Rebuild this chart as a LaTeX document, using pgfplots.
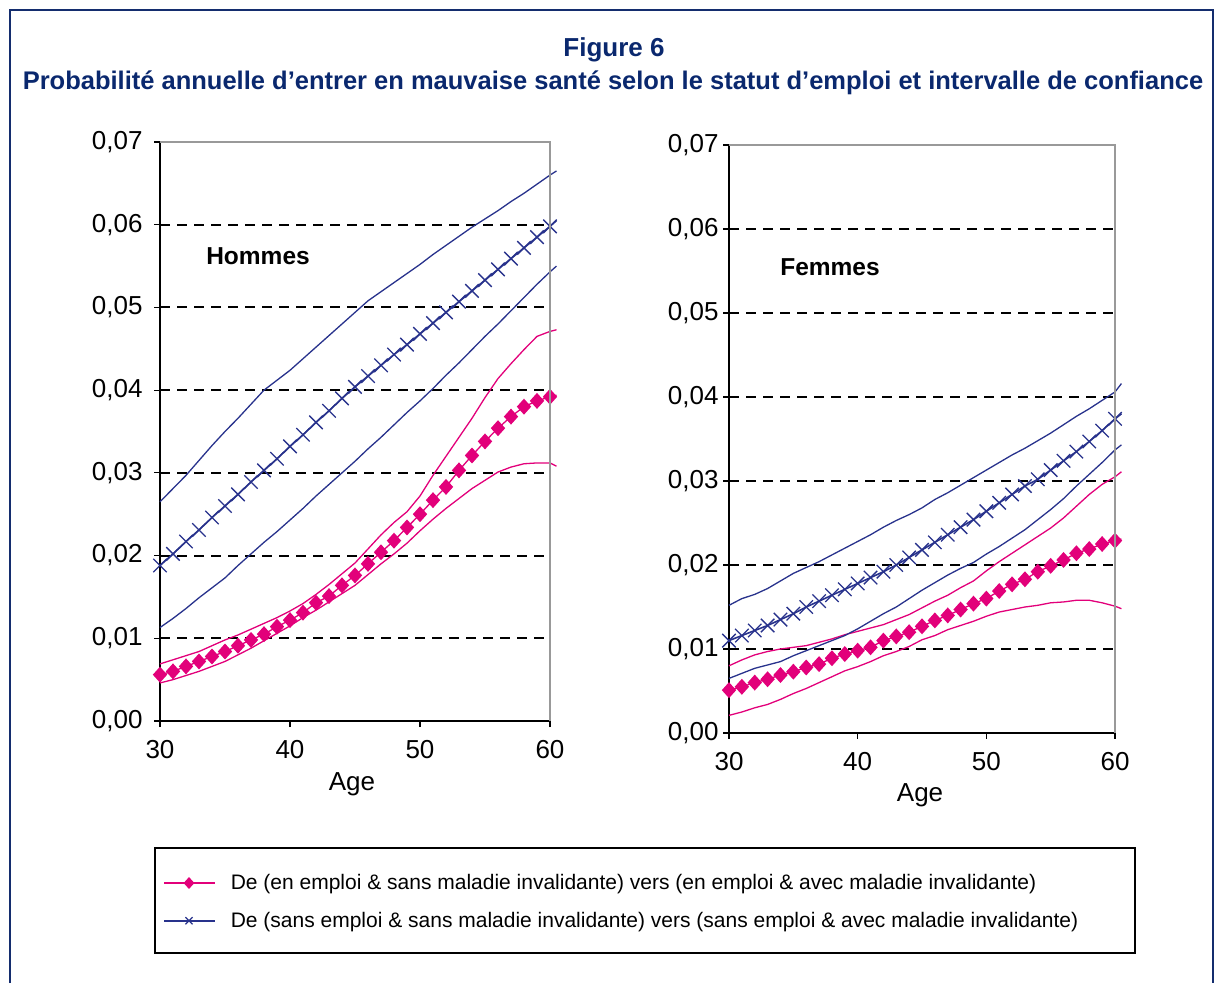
\documentclass[border=0pt]{standalone}
\usepackage{pgfplots}
\usepackage{pgfplotstable}
\pgfplotsset{compat=1.18}
\usepackage{fontspec}
\setmainfont{Liberation Sans}
\definecolor{pinkc}{RGB}{226,0,122}
\definecolor{bluec}{RGB}{40,50,140}
\definecolor{navy}{RGB}{10,40,110}
\definecolor{framec}{RGB}{20,45,110}

\pgfplotstableread{
age hpl hpc hpu hbl hbc hbu
30 0.0046 0.0056 0.0069 0.0113 0.0188 0.0265
31 0.0050 0.0060 0.0074 0.0124 0.0202 0.0281
32 0.0055 0.0066 0.0079 0.0136 0.0217 0.0297
33 0.0060 0.0072 0.0084 0.0149 0.0231 0.0315
34 0.0066 0.0078 0.0091 0.0161 0.0246 0.0333
35 0.0072 0.0084 0.0098 0.0173 0.0260 0.0350
36 0.0080 0.0091 0.0104 0.0188 0.0274 0.0366
37 0.0088 0.0098 0.0111 0.0202 0.0289 0.0383
38 0.0097 0.0105 0.0118 0.0216 0.0303 0.0400
39 0.0106 0.0114 0.0125 0.0229 0.0317 0.0412
40 0.0115 0.0122 0.0133 0.0243 0.0332 0.0424
41 0.0125 0.0131 0.0142 0.0257 0.0346 0.0438
42 0.0134 0.0143 0.0153 0.0272 0.0361 0.0452
43 0.0144 0.0151 0.0165 0.0286 0.0375 0.0466
44 0.0154 0.0164 0.0178 0.0300 0.0390 0.0480
45 0.0164 0.0176 0.0191 0.0314 0.0404 0.0494
46 0.0177 0.0190 0.0208 0.0329 0.0417 0.0508
47 0.0190 0.0204 0.0225 0.0343 0.0430 0.0519
48 0.0202 0.0218 0.0240 0.0358 0.0443 0.0530
49 0.0215 0.0234 0.0253 0.0373 0.0455 0.0541
50 0.0230 0.0250 0.0272 0.0387 0.0468 0.0552
51 0.0244 0.0267 0.0297 0.0402 0.0481 0.0564
52 0.0257 0.0283 0.0320 0.0418 0.0494 0.0575
53 0.0269 0.0303 0.0343 0.0433 0.0507 0.0586
54 0.0281 0.0321 0.0366 0.0449 0.0520 0.0597
55 0.0291 0.0338 0.0391 0.0465 0.0533 0.0607
56 0.0301 0.0354 0.0414 0.0480 0.0546 0.0617
57 0.0307 0.0368 0.0432 0.0496 0.0559 0.0628
58 0.0311 0.0380 0.0449 0.0512 0.0572 0.0638
59 0.0312 0.0387 0.0465 0.0528 0.0585 0.0649
60 0.0312 0.0392 0.0471 0.0543 0.0598 0.0660
60.5 0.0308 0.0394 0.0473 0.0550 0.0605 0.0665
}\hommes

\pgfplotstableread{
age fpl fpc fpu fbl fbc fbu
30 0.0021 0.0051 0.0080 0.0065 0.0110 0.0152
31 0.0025 0.0055 0.0087 0.0071 0.0116 0.0160
32 0.0030 0.0060 0.0093 0.0077 0.0122 0.0165
33 0.0034 0.0064 0.0097 0.0081 0.0128 0.0172
34 0.0040 0.0069 0.0100 0.0085 0.0135 0.0181
35 0.0047 0.0073 0.0102 0.0092 0.0142 0.0190
36 0.0053 0.0078 0.0104 0.0098 0.0150 0.0197
37 0.0060 0.0082 0.0108 0.0104 0.0157 0.0204
38 0.0067 0.0089 0.0112 0.0110 0.0164 0.0212
39 0.0074 0.0094 0.0117 0.0116 0.0171 0.0220
40 0.0079 0.0098 0.0121 0.0124 0.0178 0.0228
41 0.0085 0.0102 0.0125 0.0133 0.0185 0.0236
42 0.0092 0.0110 0.0129 0.0142 0.0192 0.0245
43 0.0097 0.0115 0.0135 0.0150 0.0200 0.0253
44 0.0103 0.0120 0.0141 0.0160 0.0209 0.0260
45 0.0111 0.0127 0.0149 0.0170 0.0218 0.0268
46 0.0116 0.0134 0.0157 0.0179 0.0227 0.0278
47 0.0123 0.0140 0.0164 0.0188 0.0236 0.0286
48 0.0128 0.0147 0.0173 0.0196 0.0245 0.0295
49 0.0133 0.0154 0.0181 0.0203 0.0254 0.0304
50 0.0139 0.0160 0.0193 0.0213 0.0264 0.0313
51 0.0144 0.0169 0.0204 0.0222 0.0274 0.0322
52 0.0147 0.0177 0.0214 0.0232 0.0284 0.0331
53 0.0150 0.0183 0.0224 0.0242 0.0294 0.0339
54 0.0152 0.0192 0.0234 0.0254 0.0302 0.0348
55 0.0155 0.0199 0.0244 0.0266 0.0313 0.0357
56 0.0156 0.0206 0.0256 0.0279 0.0324 0.0367
57 0.0158 0.0214 0.0270 0.0294 0.0335 0.0377
58 0.0158 0.0219 0.0284 0.0308 0.0347 0.0386
59 0.0155 0.0225 0.0296 0.0322 0.0360 0.0396
60 0.0151 0.0229 0.0305 0.0337 0.0374 0.0406
60.5 0.0148 0.0231 0.0311 0.0343 0.0380 0.0416
}\femmes

\pgfplotsset{
  panel/.style={
    scale only axis,
    xmin=30, xmax=60, ymin=0, ymax=0.07,
    clip=false,
    axis x line*=bottom, axis y line*=left,
    axis line style={black, line width=1.6pt, -},
    xtick={30,40,50,60},
    ytick={0,0.01,0.02,0.03,0.04,0.05,0.06,0.07},
    scaled y ticks=false,
    tick align=outside, major tick length=6pt,
    tick style={black, line width=1.2pt},
    ymajorgrids,
    grid style={black, line width=2pt, dash pattern=on 10pt off 7pt},
    yticklabel style={/pgf/number format/fixed, /pgf/number format/fixed zerofill, /pgf/number format/precision=2, /pgf/number format/use comma, /pgf/number format/assume math mode=true},
    xticklabel style={/pgf/number format/assume math mode=true, yshift=-10pt},
    ticklabel style={font=\fontsize{26}{30}\selectfont},
    xlabel={Age},
    xlabel style={font=\fontsize{26}{30}\selectfont, anchor=center},
    after end axis/.code={\draw[black!40, line width=2.5pt] (rel axis cs:0,1) -- (rel axis cs:1,1) -- (rel axis cs:1,0);},
    ci/.style={line width=1.3pt, no marks, forget plot},
    pinkmain/.style={pinkc, line width=1.3pt, mark=diamond*, mark size=7pt, mark options={xscale=1.2, solid}, mark indices={1,...,31}},
    bluemain/.style={bluec, line width=1.6pt, mark=x, mark size=9.5pt, mark options={line width=1.3pt}, mark indices={1,...,31}},
  },
}

\begin{document}
\begin{tikzpicture}[x=1pt,y=1pt]
\path[use as bounding box] (0,0) rectangle (1215,983);
% frame
\draw[framec, line width=2.5pt] (10,0) -- (10,973) -- (1213,973) -- (1213,0);
% titles
\node[font=\bfseries\fontsize{26}{30}\selectfont, text=navy] at (614,933) {Figure 6};
\node[font=\bfseries\fontsize{25.5}{30}\selectfont, text=navy] at (613,900) {Probabilité annuelle d’entrer en mauvaise santé selon le statut d’emploi et intervalle de confiance};

% Hommes
\begin{axis}[panel, at={(160pt,262pt)}, anchor=south west, width=390pt, height=579pt,
  xlabel style={at={(axis description cs:0.492,-0.1086)}},
  yticklabel style={xshift=-8pt},
  legend style={at={(axis description cs:0.0077,-0.3124)}, anchor=west, draw=none, fill=none,
    inner sep=0pt, font=\fontsize{21}{25}\selectfont, cells={anchor=west}, row sep=17pt, column sep=13pt},
  legend image code/.code={\draw[mark=none] (0pt,0pt) -- (51pt,0pt); \draw plot coordinates {(25pt,0pt)};},
]
\addplot[pinkc, ci] table[x=age, y=hpl] {\hommes};
\addplot[pinkc, ci] table[x=age, y=hpu] {\hommes};
\addplot[bluec, ci] table[x=age, y=hbl] {\hommes};
\addplot[bluec, ci] table[x=age, y=hbu] {\hommes};
\addplot[pinkmain, legend image post style={mark size=5pt, mark indices={}}] table[x=age, y=hpc] {\hommes};
\addlegendentry{De (en emploi \& sans maladie invalidante) vers (en emploi \& avec maladie invalidante)}
\addplot[bluemain, legend image post style={mark size=5pt, mark indices={}}] table[x=age, y=hbc] {\hommes};
\addlegendentry{De (sans emploi \& sans maladie invalidante) vers (sans emploi \& avec maladie invalidante)}
\node[font=\bfseries\fontsize{24.5}{28}\selectfont] at (axis cs:37.54,0.0562) {Hommes};
\end{axis}

% Femmes
\begin{axis}[panel, at={(729pt,250pt)}, anchor=south west, width=386pt, height=588pt,
  xlabel style={at={(axis description cs:0.495,-0.106)}},
  yticklabel style={xshift=-1pt},
]
\addplot[pinkc, ci] table[x=age, y=fpl] {\femmes};
\addplot[pinkc, ci] table[x=age, y=fpu] {\femmes};
\addplot[bluec, ci] table[x=age, y=fbl] {\femmes};
\addplot[bluec, ci] table[x=age, y=fbu] {\femmes};
\addplot[pinkmain] table[x=age, y=fpc] {\femmes};
\addplot[bluemain] table[x=age, y=fbc] {\femmes};
\node[font=\bfseries\fontsize{24.5}{28}\selectfont] at (axis cs:37.85,0.0554) {Femmes};
\end{axis}

% legend frame
\draw[black, line width=2pt] (155,135) rectangle (1135,30);
\end{tikzpicture}
\end{document}
